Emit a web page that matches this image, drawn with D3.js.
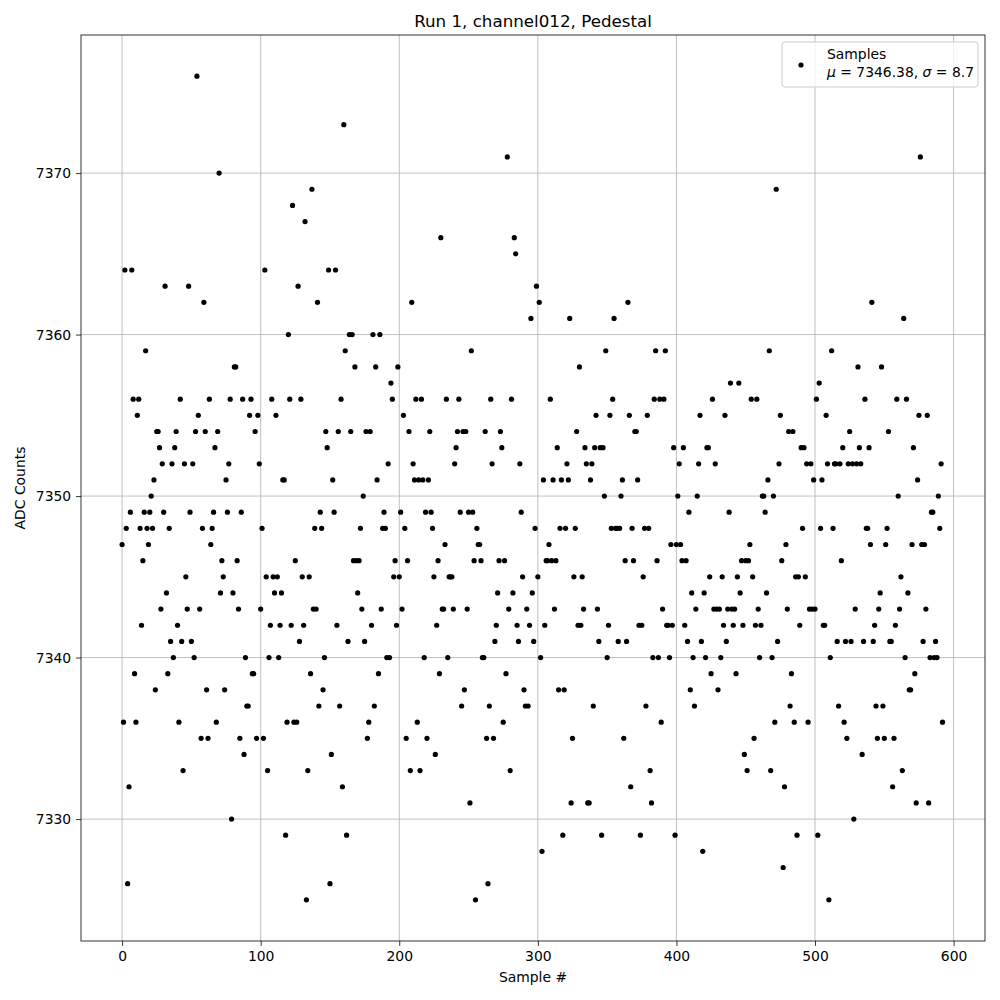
<!DOCTYPE html>
<html>
<head>
<meta charset="utf-8">
<script src="https://cdn.jsdelivr.net/npm/d3@7"></script>
<style>
  body { margin: 0; background: #fff; }
  svg { font-family: "DejaVu Sans", sans-serif; }
</style>
</head>
<body>
<svg id="chart" width="1000" height="1000"></svg>
<script>
// ADC samples, sample index = position in array
const samples = [
  7347,7336,7364,7348,7326,7332,7349,7364,7356,7339,7336,7355,7356,7348,7342,7346,7349,7359,7348,7347,
  7349,7350,7348,7351,7338,7354,7354,7353,7343,7352,7349,7363,7344,7339,7348,7341,7352,7340,7353,7354,
  7342,7336,7356,7341,7333,7352,7345,7343,7363,7349,7341,7352,7340,7354,7376,7355,7343,7335,
  7348,7362,7354,7338,7335,7356,7347,7348,7349,7353,7336,7354,7370,7344,7346,7345,7338,7351,7349,7352,
  7356,7330,7344,7358,7358,7346,7343,7335,7349,7356,7334,7340,7337,7337,7355,7356,7339,7339,7354,7335,
  7355,7352,7343,7348,7335,7364,7345,7333,7340,7342,7356,7345,7344,7355,7345,7340,7342,7344,7351,7351,
  7329,7336,7360,7356,7342,7368,7336,7346,7336,7363,7341,7356,7345,
  7342,7367,7325,7333,7345,7339,7369,7343,7348,7343,7362,7337,7349,7348,7338,7340,7354,7353,7364,7326,
  7334,7351,7349,7364,7342,7354,7337,7356,7332,7373,7359,7329,7341,7360,7354,7360,7346,7358,7346,7344,
  7346,7348,7343,7350,7341,7354,7335,7336,7354,7342,7360,7337,7358,7351,7339,7360,7343,7348,7349,7348,
  7340,7352,7340,7357,7356,7345,7346,7342,7358,7345,7349,
  7343,7355,7348,7335,7346,7354,7333,7362,7352,7351,7356,7336,7351,7333,7356,7351,7340,7349,7335,7351,
  7354,7349,7348,7345,7334,7342,7346,7339,7366,7343,7343,7347,7356,7340,7345,7345,7345,7343,7352,7353,
  7354,7356,7349,7337,7354,7338,7354,7343,7349,7331,7359,7349,7346,7325,7348,7347,7347,7346,7340,7340,
  7354,7335,7326,7337,7356,7352,7335,7341,7342,7344,7346,
  7354,7353,7336,7346,7339,7371,7343,7333,7356,7344,7366,7365,7342,7341,7352,7349,7345,7338,7337,7343,
  7337,7342,7361,7344,7341,7348,7363,7345,7362,7340,7328,7351,7342,7346,7346,7347,7356,7346,7351,7343,
  7346,7353,7338,7348,7351,7329,7338,7348,7352,7351,7361,7331,7335,7345,7348,7354,7342,7358,7342,7345,
  7343,7353,7352,7331,7331,7351,7352,7337,7353,7355,7343,7341,
  7353,7329,7353,7350,7359,7340,7342,7355,7348,7356,7361,7348,7348,7341,7348,7350,7351,7335,7346,7341,
  7362,7355,7332,7348,7346,7354,7354,7351,7342,7329,7342,7345,7348,7337,7355,7348,7333,7331,7340,7356,
  7359,7346,7340,7356,7336,7343,7356,7359,7342,7342,7340,7347,7342,7353,7329,7347,7350,7352,7347,7346,
  7353,7342,7346,7341,7349,7338,7344,7340,7337,7343,7350,
  7352,7355,7341,7328,7344,7340,7353,7353,7345,7339,7356,7343,7352,7343,7338,7343,7340,7345,7342,7355,
  7341,7343,7349,7357,7343,7342,7343,7339,7345,7357,7344,7346,7342,7334,7346,7333,7346,7347,7356,7345,
  7335,7342,7356,7343,7340,7342,7350,7350,7349,7344,7351,7359,7333,7340,7350,7336,7369,7341,7352,7355,
  7346,7327,7332,7347,7343,7354,7337,7339,7354,7336,7345,7329,
  7345,7342,7353,7348,7353,7345,7352,7336,7343,7352,7343,7351,7343,7356,7329,7357,7348,7351,7342,7342,
  7355,7352,7325,7340,7359,7348,7352,7352,7341,7337,7352,7346,7353,7336,7341,7335,7352,7354,7341,7352,
  7330,7343,7352,7358,7353,7352,7334,7341,7356,7348,7348,7353,7347,7362,7341,7342,7337,7335,7343,7344,
  7358,7337,7335,7347,7348,7354,7341,7341,7332,7335,7342,7356,7350,7343,7345,7333,7361,7340,7356,7344,
  7338,7338,7347,7353,7339,7331,7351,7355,7371,7347,7341,7347,7343,7355,7331,7340,7349,7349,7340,7341,
  7340,7350,7348,7352,7336
]

const xTicks = [0, 100, 200, 300, 400, 500, 600]
const yTicks = [7330, 7340, 7350, 7360, 7370]

const titleText = 'Run 1, channel012, Pedestal'
const legendName = 'Samples'
const legendMu = '7346.38'
const legendSigma = '8.7'

const svg = d3.select('#chart')
const margin = { left: 81, right: 15, top: 35, bottom: 59 }
const width = 1000 - margin.left - margin.right
const height = 1000 - margin.top - margin.bottom

// matplotlib-like 5% padding; the original run had 594 samples (0..593)
const xSpan = 593
const yMin = d3.min(samples), yMax = d3.max(samples)
const yPad = (yMax - yMin) * 0.05

const x = d3.scaleLinear().domain([-xSpan * 0.05, xSpan * 1.05]).range([0, width])
const y = d3.scaleLinear().domain([yMin - yPad, yMax + yPad]).range([height, 0])

const g = svg.append('g').attr('transform', `translate(${margin.left},${margin.top})`)

// grid
g.append('g').selectAll('line').data(xTicks).join('line')
  .attr('x1', d => x(d)).attr('x2', d => x(d))
  .attr('y1', 0).attr('y2', height)
  .attr('stroke', '#b0b0b0').attr('stroke-width', 0.8)
g.append('g').selectAll('line').data(yTicks).join('line')
  .attr('x1', 0).attr('x2', width)
  .attr('y1', d => y(d)).attr('y2', d => y(d))
  .attr('stroke', '#b0b0b0').attr('stroke-width', 0.8)

// points
g.append('g').selectAll('circle').data(samples).join('circle')
  .attr('cx', (d, i) => x(i))
  .attr('cy', d => y(d))
  .attr('r', 2.6)
  .attr('fill', '#000')

// axes
const xAxis = g.append('g').attr('transform', `translate(0,${height})`)
  .call(d3.axisBottom(x).tickValues(xTicks).tickSize(4.9).tickPadding(4.9))
const yAxis = g.append('g')
  .call(d3.axisLeft(y).tickValues(yTicks).tickSize(4.9).tickPadding(4.9).tickFormat(d3.format('d')))
;[xAxis, yAxis].forEach(a => {
  a.select('.domain').remove()
  a.selectAll('line').attr('stroke', '#000').attr('stroke-width', 0.8)
  a.selectAll('text').attr('font-size', 13.9).attr('fill', '#000')
    .attr('font-family', '"DejaVu Sans", sans-serif')
})

g.append('rect').attr('width', width).attr('height', height)
  .attr('fill', 'none').attr('stroke', '#000').attr('stroke-width', 0.8)

// labels
svg.append('text').attr('x', margin.left + width / 2).attr('y', 27)
  .attr('text-anchor', 'middle').attr('font-size', 16.7).text(titleText)
svg.append('text').attr('x', margin.left + width / 2).attr('y', 982)
  .attr('text-anchor', 'middle').attr('font-size', 13.9).text('Sample #')
svg.append('text').attr('transform', `translate(25,${margin.top + height / 2}) rotate(-90)`)
  .attr('text-anchor', 'middle').attr('font-size', 13.9).text('ADC Counts')

// legend
const lg = svg.append('g').attr('transform', 'translate(782,42)')
lg.append('rect').attr('width', 196).attr('height', 45).attr('rx', 3)
  .attr('fill', '#fff').attr('fill-opacity', 0.8).attr('stroke', '#cccccc').attr('stroke-width', 1)
lg.append('circle').attr('cx', 19).attr('cy', 23).attr('r', 2.6).attr('fill', '#000')
lg.append('text').attr('x', 45).attr('y', 17).attr('font-size', 13.9).text(legendName)
const t2 = lg.append('text').attr('x', 45).attr('y', 35).attr('font-size', 13.9)
t2.append('tspan').attr('font-style', 'italic').text('μ')
t2.append('tspan').text(' = ' + legendMu + ', ')
t2.append('tspan').attr('font-style', 'italic').text('σ')
t2.append('tspan').text(' = ' + legendSigma)
</script>
</body>
</html>
